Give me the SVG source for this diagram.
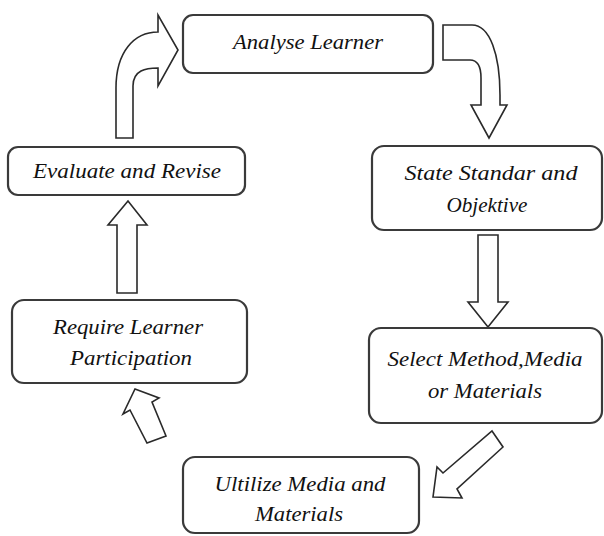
<svg xmlns="http://www.w3.org/2000/svg" width="604" height="536" viewBox="0 0 604 536">
<style>
.box{fill:#fff;stroke:#3a3a3a;stroke-width:2.2}
.arr{fill:#fff;stroke:#2a2a2a;stroke-width:1.6;stroke-linejoin:miter}
text{font-family:"Liberation Serif","Times New Roman",serif;font-style:italic;font-size:22px;fill:#111;text-anchor:middle}
</style>
<rect width="604" height="536" fill="#fff"/>
<g id="connectors">
<path class="arr" d="M116,138 L116,88 C116,52 134,32 158,32 L158,15 L178,50 L158,86 L158,68 C146,68 133,70 133,86 L133,138 Z"/>
<path class="arr" d="M443,25 L472,25 C490,25 500,55 500,95 L500,105 L507,105 L489,138 L471,105 L481,105 L481,78 C481,66 477,60 470,60 L443,60 Z"/>
<path class="arr" d="M478,235 L498,235 L498,302 L508,302 L488,327 L468,302 L478,302 Z"/>
<path class="arr" d="M492,431 L503,447 L457,489 L462,498 L433,497 L437,467 L443,473 Z"/>
<path class="arr" d="M135,389 L159,398 L152,402 L166,436 L147,443 L130,410 L123,414 Z"/>
<path class="arr" d="M117,293 L117,225 L108,225 L128,201 L147,225 L137,225 L137,293 Z"/>
</g>
<g id="analyse">
<rect class="box" x="183" y="15" width="250" height="58" rx="10"/>
<text x="308" y="49" textLength="150" lengthAdjust="spacingAndGlyphs">Analyse Learner</text>
</g>
<g id="state">
<rect class="box" x="372" y="146" width="230" height="84" rx="12"/>
<text x="491" y="180" textLength="173" lengthAdjust="spacingAndGlyphs">State Standar and</text>
<text x="487" y="212" textLength="81" lengthAdjust="spacingAndGlyphs">Objektive</text>
</g>
<g id="select">
<rect class="box" x="369" y="328" width="233" height="95" rx="12"/>
<text x="485" y="366" textLength="195" lengthAdjust="spacingAndGlyphs">Select Method,Media</text>
<text x="485" y="398" textLength="114" lengthAdjust="spacingAndGlyphs">or Materials</text>
</g>
<g id="utilize">
<rect class="box" x="183" y="457" width="236" height="76" rx="12"/>
<text x="300" y="491" textLength="171" lengthAdjust="spacingAndGlyphs">Ultilize Media and</text>
<text x="299" y="521" textLength="88" lengthAdjust="spacingAndGlyphs">Materials</text>
</g>
<g id="require">
<rect class="box" x="12" y="300" width="235" height="83" rx="12"/>
<text x="128" y="334" textLength="150" lengthAdjust="spacingAndGlyphs">Require Learner</text>
<text x="131" y="365" textLength="122" lengthAdjust="spacingAndGlyphs">Participation</text>
</g>
<g id="evaluate">
<rect class="box" x="8" y="147" width="237" height="48" rx="10"/>
<text x="127" y="178" textLength="188" lengthAdjust="spacingAndGlyphs">Evaluate and Revise</text>
</g>
</svg>
